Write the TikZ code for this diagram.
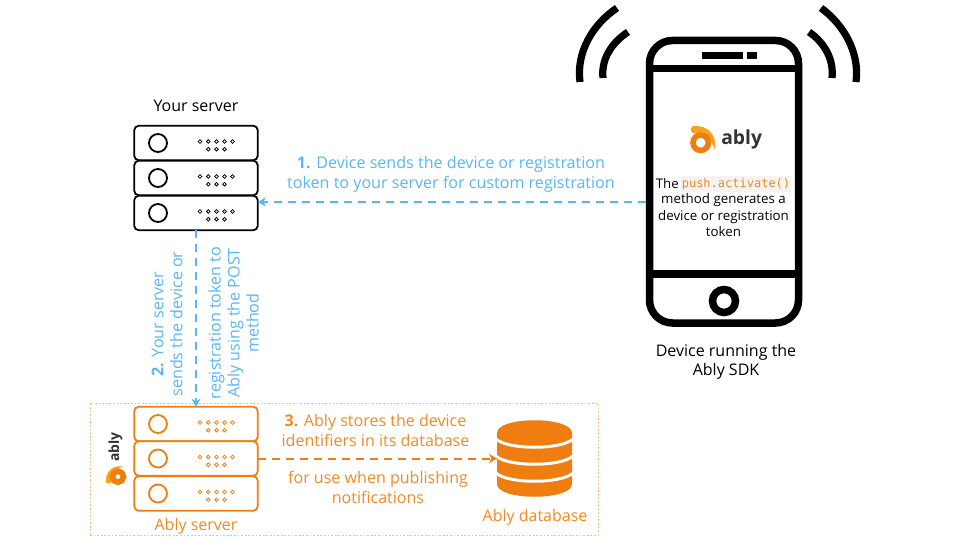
\documentclass[tikz,border=0pt]{standalone}
\usepackage{fontspec}
\usetikzlibrary{arrows.meta}
\setmainfont{Open Sans}
\newfontfamily\codefont{DejaVu Sans Mono}
\definecolor{ablyblue}{HTML}{57B7F5}
\definecolor{ablyorange}{HTML}{EF7D0F}
\definecolor{ablytext}{HTML}{F28A24}
\definecolor{ablylight}{HTML}{F9A21B}
\definecolor{boxline}{HTML}{F9BE85}
\definecolor{logotext}{HTML}{333333}
\definecolor{codebg}{HTML}{F3F3F3}
\newcommand{\fs}[1]{\fontsize{#1}{#1}\selectfont}
\tikzset{
  x=1pt,y=-1pt,
  serverrow/.style={draw=#1,line width=1.8pt,rounded corners=4.5pt,minimum width=123.5pt,minimum height=34.5pt,inner sep=0pt,outer sep=0pt,fill=white},
  rowcircle/.style={circle,draw=#1,line width=1.8pt,minimum size=18pt,inner sep=0pt},
  rowdot/.style={circle,draw=#1,line width=.8pt,minimum size=3.7pt,inner sep=0pt},
  bluetext/.style={text=ablyblue,align=center,font=\fs{16.1},text depth=0pt,inner sep=0pt},
  orangetext/.style={text=ablytext,align=center,font=\fs{16.05},inner sep=0pt},
  blacktext/.style={text=black,align=center,font=\fs{16},inner sep=0pt},
  flow/.style={draw=#1,line width=2pt,dash pattern=on 8pt off 6pt,-{Stealth[length=8pt,width=9pt,inset=2.5pt]}},
  wave/.style={line width=7.2pt,draw=black},
  dbgap/.style={draw=white,line width=3pt},
}
\newcommand{\serverrow}[4]{% name, centre y, colour, unused
  \node[serverrow=#3] (#1) at (196,#2) {};
  \node[rowcircle=#3] (#1c) at (158,#2) {};
  \foreach \dx [count=\i] in {200,208.3,216.5,224.5,232.5}
    \node[rowdot=#3] (#1d\i) at (\dx,#2-1.5) {};
  \foreach \dx [count=\i] in {208.3,216.5,224.5}
    \node[rowdot=#3] (#1e\i) at (\dx,#2+6.2) {};
}
\newcommand{\ablylogo}[5]{% name,x,y,scale,rotate
  \begin{scope}[shift={(#2,#3)},rotate=#5,scale=#4]
    \fill[ablylight] (-8,-16.5) .. controls (7,-18.5) and (17,-7) .. (14,7)
      .. controls (11.5,-3) and (2,-11) .. (-8,-9.5) .. controls (-10.5,-12) and (-10.5,-14.5) .. (-8,-16.5) -- cycle;
    \draw[ablyorange,line width=5.6pt] (0,0) circle[radius=7.7];
    \node[font=\bfseries\fs{19.3},text=logotext,inner sep=0pt,transform shape] (#1) at (41,-3.5) {ably};
  \end{scope}
}
\begin{document}
\begin{tikzpicture}
\useasboundingbox (0,0) rectangle (960,540);
% Ably group frame
\node[draw=boxline,line width=.9pt,dash pattern=on 1.8pt off 1.8pt,minimum width=508pt,minimum height=132pt,inner sep=0pt,outer sep=0pt] (group) at (344,469) {};
% phone
\node[draw=black,line width=7.5pt,rounded corners=23pt,minimum width=149pt,minimum height=282.5pt,inner sep=0pt,outer sep=0pt,fill=white] (phone) at (724,181.75) {};
\coordinate (barAl) at (phone.west |- 0,68.5);
\coordinate (barAr) at (phone.east |- 0,68.5);
\coordinate (barBl) at (phone.west |- 0,274);
\coordinate (barBr) at (phone.east |- 0,274);
\draw[black,line width=7.5pt] (barAl) -- (barAr);
\draw[black,line width=7.5pt] (barBl) -- (barBr);
\fill[black] (702,52) rectangle (743,59);
\fill[black] (747,52) rectangle (757,59);
\node[draw=black,line width=7.5pt,circle,minimum width=23pt,inner sep=0pt,outer sep=0pt] (homebtn) at (724,301) {};
% radio waves
\draw[wave] (580,82) .. controls (576,52) and (593,24) .. (617,8);
\draw[wave] (603,78) .. controls (601,60) and (611,43) .. (628,32);
\draw[wave] (856,82) .. controls (860,52) and (843,24) .. (821,8);
\draw[wave] (832,78) .. controls (834,60) and (825,43) .. (809,32);
% phone logo and text
\ablylogo{phonelogo}{700.7}{142.7}{1}{0}
\node[font=\fs{13.3},text=black,inner sep=0pt,anchor=base east] (thelabel) at (679,188) {The};
\node[fill=codebg,text=ablytext,font=\codefont\fs{12},inner sep=0pt,minimum height=15pt,minimum width=110pt] (code) at (736,184) {push.activate()};
\node[font=\fs{13.3},text=black,inner sep=0pt,anchor=base] (l2) at (723.5,204) {method generates a};
\node[font=\fs{13.3},text=black,inner sep=0pt,anchor=base] (l3) at (723.5,220) {device or registration};
\node[font=\fs{13.3},text=black,inner sep=0pt,anchor=base] (l4) at (723.5,236) {token};
\node[blacktext] (devlabel) at (726,361.5) {Device running the\\[3pt]Ably SDK};
% your server
\node[blacktext] (yourserver) at (196,106) {Your server};
\serverrow{sA}{143}{black}{}
\serverrow{sB}{178}{black}{}
\serverrow{sC}{213}{black}{}
% ably server
\serverrow{oA}{424}{ablyorange}{}
\serverrow{oB}{458.5}{ablyorange}{}
\serverrow{oC}{493.5}{ablyorange}{}
\node[text=ablytext,font=\fs{16},inner sep=0pt] (ablyserver) at (196,526) {Ably server};
\ablylogo{leftlogo}{118}{476.7}{.72}{90}
% database
\node[minimum width=75pt,minimum height=77pt,inner sep=0pt,outer sep=0pt] (db) at (534.5,458.5) {};
\fill[ablyorange] (497,433) .. controls (497,416) and (572,416) .. (572,433)
  -- (572,484) .. controls (572,501) and (497,501) .. (497,484) -- cycle;
\draw[dbgap] (496,439) .. controls (508,450) and (561,450) .. (573,439);
\draw[dbgap] (496,456) .. controls (508,467) and (561,467) .. (573,456);
\draw[dbgap] (496,473) .. controls (508,484) and (561,484) .. (573,473);
\node[text=ablytext,font=\fs{16},inner sep=0pt] (dblabel) at (535,517) {Ably database};
% connectors
\draw[flow=ablyblue] (phone.west |- 0,202) ++(-3.75,0) -- (sC.east |- 0,202);
\draw[flow=ablyblue] (sC.south) -- (oA.north);
\draw[flow=ablyorange] (oB.east) -- (db.west);
% labels
\node[bluetext] (step1) at (451,172.5) {\textbf{1.} Device sends the device or registration\\[3pt]token to your server for custom registration};
\node[bluetext,rotate=90] (step2a) at (167,324) {\textbf{2.} Your server\\[3pt]sends the device or};
\node[bluetext,rotate=90] (step2b) at (233.5,323) {registration token to\\[3pt]Ably using the POST\\[3pt]method};
\node[orangetext] (step3a) at (375.5,430.5) {\textbf{3.} Ably stores the device\\[3pt]identifiers in its database};
\node[orangetext] (step3b) at (378,487.5) {for use when publishing\\[3pt]notifications};
\end{tikzpicture}
\end{document}
